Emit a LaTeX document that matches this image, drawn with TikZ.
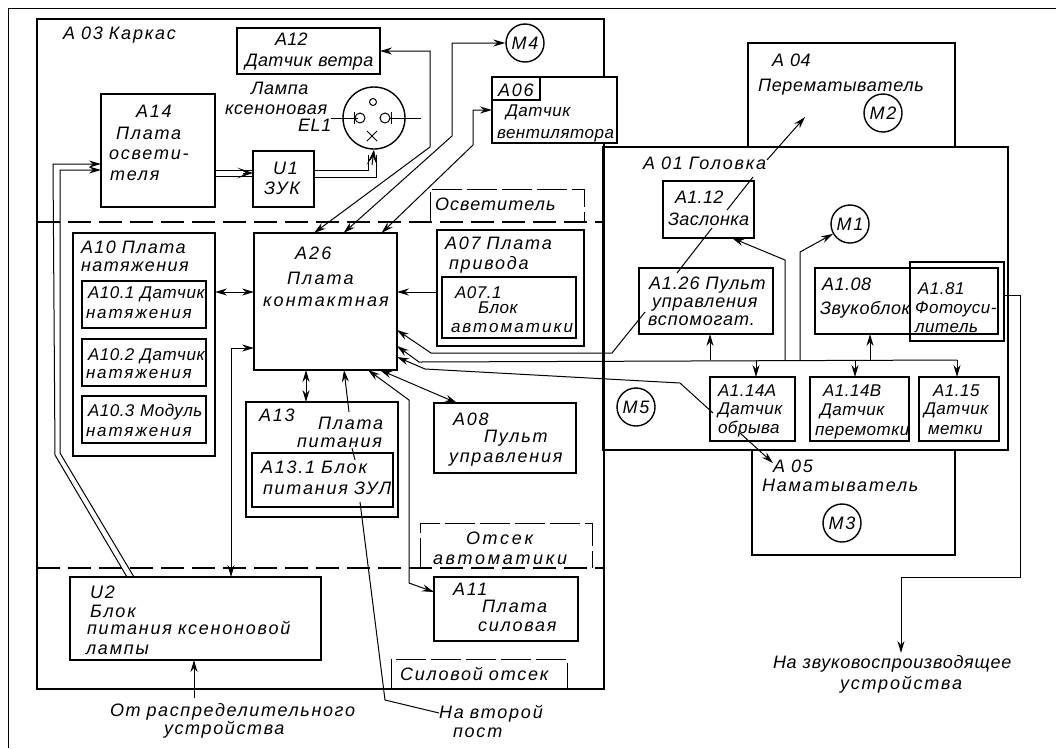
\documentclass[tikz,border=0pt]{standalone}
\usepackage{fontspec}
\usepackage{tikz}
\usetikzlibrary{arrows.meta,positioning,shapes.geometric}
\newfontfamily\drawfont{Liberation Sans}
\newcommand{\ind}[1]{\hspace*{#1pt}}
\newcommand{\lsp}[1]{\addfontfeature{LetterSpace=#1}}

\begin{document}
\begin{tikzpicture}[
  x=1pt, y=-1pt,
  ls/.style={font=\fontsize{18}{20}\selectfont\drawfont\itshape\lsp{#1}},
  every node/.style={ls=10},
  narrow/.style={font=\fontsize{17}{20}\selectfont\drawfont\itshape\lsp{3}},
  sz/.style n args={3}{text width=#1pt, text height=#3pt, text depth=#2pt-#3pt},
  txt/.style={anchor=north west, inner sep=0pt, outer sep=0pt, align=left},
  box/.style={txt, draw, line width=1.5pt},
  motor/.style={draw, circle, line width=1.4pt, minimum size=38pt, inner sep=0pt},
  ln/.style={line width=1pt},
  arr/.style={ln, -{Stealth[length=12pt,width=7pt,inset=4pt]}},
  biarr/.style={ln, {Stealth[length=12pt,width=7pt,inset=4pt]}-{Stealth[length=12pt,width=7pt,inset=4pt]}},
  part/.style={line width=1.2pt, dash pattern=on 23pt off 8pt},
  sect/.style={line width=1pt, dash pattern=on 30pt off 5pt}
]
\useasboundingbox (0,0) rectangle (1056,748);
\draw[ln] (8,748) -- (8,8) -- (1056,8);

% cabinet
\node[box, sz={567}{670}{20}] (a03) at (37,19) {\ind{26}A 03 Каркас};
\draw[part] (a03.west |- 0,222) -- (a03.east |- 0,222);
\draw[part] (a03.west |- 0,568) -- (a03.east |- 0,568);
\node[box, ls=2, sz={143}{46}{17}] (a12) at (237,28) {\ind{38}A12\\[1pt]\ind{8}Датчик ветра};
\node[motor] (m4) at (525,43) {M4};
\node[box, fill=white, narrow, sz={125}{66}{39}] (a06) at (492,77) {\ind{14}Датчик\\[2pt]\ind{5}вентилятора};
\node[box, sz={48}{23}{19}] (a06n) at (492,77) {\ind{6}A06};
\node[box, sz={114}{113}{23}] (a14) at (101,94)
  {\ind{35}A14\\[2pt]\ind{15}Плата\\\ind{8}освети-\\[1pt]\ind{9}теля};
\node[box, sz={61}{56}{23}] (u1) at (253,151) {\ind{20}U1\\\ind{11}ЗУК};
\node[txt, ls=4, sz={110}{60}{18}] (lampt) at (225,76) {\ind{26}Лампа\\ксеноновая\\[-3pt]\ind{73}EL1};
\node[draw, ellipse, line width=1.4pt, minimum width=62pt, minimum height=62pt, inner sep=0pt] (lamp) at (374,118) {};

\node[txt, ls=6, sz={154}{33}{21}] (osv) at (430,189) {\ind{5}Осветитель};
\draw[sect] (osv.south west) |- (osv.north east) -- (osv.south east);

\node[box, ls=8, sz={142}{223}{20}] (a10) at (73,233) {\ind{8}A10 Плата\\[-2pt]\ind{8}натяжения};
\node[box, narrow, sz={124}{47}{17}] (a101) at (82,281) {\ind{6}A10.1 Датчик\\\ind{4}{\lsp{11}натяжения}};
\node[box, narrow, sz={124}{47}{21}, below=11pt of a101] (a102) {\ind{6}A10.2 Датчик\\[-2pt]\ind{4}{\lsp{11}натяжения}};
\node[box, narrow, sz={124}{47}{20}, below=10pt of a102] (a103) {\ind{6}A10.3 Модуль\\\ind{4}{\lsp{11}натяжения}};
\node[box, ls=12, sz={143}{137}{26}] (a26) at (254,233) {\ind{41}A26\\[5pt]\ind{33}Плата\\[2pt]\ind{9}контактная};
\node[box, sz={147}{116}{19}] (a07) at (437,230) {\ind{8}A07 Плата\\\ind{12}привода};
\node[box, narrow, sz={134}{61}{21}] (a071) at (442,277) {\ind{13}A07.1\\[-5pt]\ind{36}Блок\\[-1pt]\ind{9}{\lsp{12}автоматики}};
\node[box, sz={152}{115}{19}] (a13) at (246,402) {\ind{13}A13\\[-12pt]\ind{72}Плата\\[-2pt]\ind{51}питания};
\node[box, sz={141}{54}{20}] (a131) at (252,453) {\ind{9}A13.1 Блок\\[1pt]\ind{11}питания ЗУЛ};
\node[box, sz={142}{70}{22}] (a08) at (434,403) {\ind{19}A08\\[-3pt]\ind{50}Пульт\\\ind{15}управления};
\node[txt, ls=15, sz={172}{45}{21}] (otsek) at (420,523) {\ind{46}Отсек\\\ind{13}автоматики};
\draw[sect] (otsek.south west) |- (otsek.north east) -- (otsek.south east);
\node[box, sz={144}{64}{18}] (a11) at (434,577) {\ind{19}A11\\[-3pt]\ind{48}Плата\\[-1pt]\ind{44}силовая};
\node[box, sz={251}{83}{21}] (u2) at (70,577)
  {\ind{20}U2\\[-1pt]\ind{20}Блок\\[-3pt]\ind{17}питания ксеноновой\\\ind{16}лампы};
\node[txt, sz={176}{30}{21}] (silov) at (391,659) {\ind{9}Силовой отсек};
\draw[sect] (silov.south west) |- (silov.north east) -- (silov.south east);

% head and tape units
\node[box, ls=4, sz={207}{104}{23}] (a04) at (748,43) {\ind{24}A 04\\[5pt]\ind{10}Перематыватель};
\node[motor] (m2) at (883,113) {M2};
\node[box, sz={203}{105}{22}] (a05) at (752,450) {\ind{21}A 05\\[-1pt]\ind{10}Наматыватель};
\node[motor] (m3) at (842,523) {M3};
\node[box, sz={405}{303}{22}] (a01) at (603,147) {\ind{40}A 01 Головка};
\node[box, ls=2, sz={91}{57}{22}] (a112) at (663,181) {\ind{12}A1.12\\[2pt]\ind{5}Заслонка};
\node[box, ls=5, sz={134}{66}{21}] (a126) at (639,268) {\ind{10}A1.26 Пульт\\[-2pt]\ind{13}управления\\[-2pt]\ind{9}вспомогат.};
\node[motor] (m1) at (850,224) {M1};
\node[box, ls=3, sz={183}{66}{22}] (a108) at (815,268) {\ind{7}A1.08\\[4pt]\ind{5}Звукоблок};
\node[box, narrow, sz={94}{79}{32}] (a181) at (910,262) {\ind{8}A1.81\\[-1pt]\ind{5}Фотоуси-\\[-1pt]\ind{5}литель};
\node[motor] (m5) at (636,407) {M5};
\node[box, narrow, sz={85}{64}{19}] (a114a) at (710,377) {\ind{8}A1.14A\\[-2pt]\ind{8}Датчик\\[-1pt]\ind{8}обрыва};
\node[box, narrow, sz={99}{64}{19}, right=15pt of a114a] (a114b) {\ind{13}A1.14B\\[-1pt]\ind{10}Датчик\\\ind{5}перемотки};
\node[box, narrow, sz={80}{64}{19}, right=10pt of a114b] (a115) {\ind{14}A1.15\\[-2pt]\ind{5}Датчик\\\ind{9}метки};

% outside labels
\node[txt, ls=9, sz={250}{40}{18}] (rasp) at (110,698) {От распределительного\\[-2pt]\ind{54}устройства};
\node[txt, sz={110}{40}{18}] (vtor) at (439,700) {На второй\\[-1pt]\ind{14}пост};
\node[txt, sz={280}{40}{15}] (sound) at (773,653) {{\lsp{4}На звуковоспроизводящее}\\[1pt]\ind{67}устройства};

% lamp
\draw[ln] (331,118) -- (358,118) (354,112) -- (354,124);
\draw[ln] (360,118) circle (5pt);
\draw[ln] (421,118) -- (389,118) (391,112) -- (391,124);
\draw[ln] (385,118) circle (5pt);
\draw[ln] (373,102) circle (3.5pt);
\draw[ln] (367,131) -- (377,141) (377,131) -- (367,141);

% connectors
\draw[biarr] (a12.east) -- (430,51) -- (430,147) -- ([xshift=-11.5]a26.north);
\draw[biarr] (m4.west) -- (452,43) -- (452,136) -- ([xshift=18]a26.north);
\draw[biarr] (a06.west) -- (473,110) -- (473,145) -- ([xshift=56]a26.north);
\draw[arr] ([xshift=57]u2.north west) -- (55,455) -- (53,164) -- (a14.west |- 0,164);
\draw[arr] ([xshift=64]u2.north west) -- (60,453) -- (60,170) -- (a14.west |- 0,170);
\draw[ln] (a14.east |- 0,170) -- (u1.west |- 0,170);
\draw[ln] (a14.east |- 0,176) -- (u1.west |- 0,176);
\draw[arr, -{Stealth[length=16pt,width=11pt,inset=9pt]}] (243,173) -- (u1.west |- 0,173);
\draw[ln] (u1.east |- 0,170) -- (368,170) -- (368,155);
\draw[ln] (u1.east |- 0,177) -- (376,177) -- (376,155);
\draw[arr, -{Stealth[length=16pt,width=11pt,inset=9pt]}] (372,165) -- (lamp.south);
\draw[biarr] (a10.east |- 0,292) -- (a26.west |- 0,292);
\draw[arr] (a07.west |- 0,292) -- (a26.east |- 0,292);
\draw[arr] ([shift={(6,44)}]a126.north west) -- (612,353) -- (431,353) -- (a26.east |- 0,330);
\draw[arr] (957,360) -- (419,362) -- (a26.east |- 0,346);
\draw[arr] ([shift={(3,36)}]a114a.north west) -- (680,383) -- (425,369) -- (a26.east |- 0,357);
\draw[arr] ([shift={(30,56)}]a114a.north west) -- ([shift={(21,13)}]a05.north west);
\draw[arr] (710,360) -- ([xshift=4]a126.south);
\draw[arr] (756,360) -- ([xshift=3.5]a114a.north);
\draw[arr] (785,360) -- (785,260) -- ([xshift=23.5]a112.south);
\draw[arr] (800,360) -- (800,252) -- (m1.210);
\draw[arr] (855,360) -- ([xshift=-4.5]a114b.north);
\draw[arr] (870,360) -- ([xshift=-36.5]a108.south);
\draw[arr] (957,360) -- ([xshift=-2]a115.north);
\draw[ln] ([shift={(38,5)}]a126.north west) -- (712,228);
\draw[ln] (727,210) -- (753,177);
\draw[arr] (767,160) -- (805,117);
\draw[biarr] ([xshift=-19.5]a26.south) -- ([xshift=-16]a13.north);
\draw[arr] (349,412) -- ([xshift=18.5]a26.south);
\draw[ln] (352,448) -- (355,460);
\draw[ln] (360,502) -- (385,700) -- ([yshift=7]vtor.west);
\draw[biarr] ([xshift=54.5]a26.south) -- ([xshift=-48]a08.north);
\draw[biarr] ([xshift=42.5]a26.south) -- (409,400) -- (409,583) -- ([yshift=17]a11.west);
\draw[biarr] ([yshift=-46.5]a26.west) -- (231,348) -- ([xshift=35.5]u2.north);
\draw[arr] ([xshift=-41]rasp.north) -- ([xshift=-1.5]u2.south);
\draw[arr] (a181.east |- 0,295) -- (1020,295) -- (1020,577) -- (901,577) -- ([xshift=-12]sound.north);
\end{tikzpicture}
\end{document}
